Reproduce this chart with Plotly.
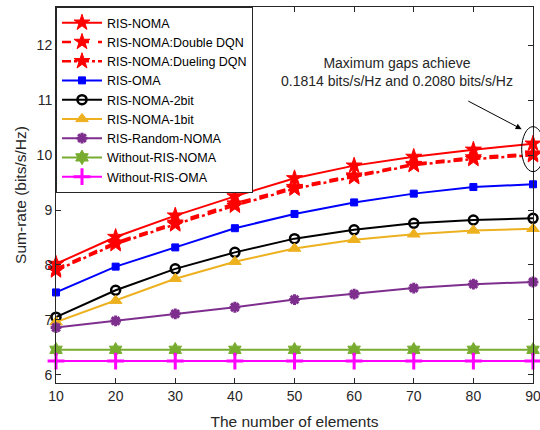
import plotly.graph_objects as go

elements = [10, 20, 30, 40, 50, 60, 70, 80, 90]
ris_noma = [8.02, 8.51, 8.90, 9.25, 9.58, 9.81, 9.97, 10.10, 10.21]
double_dqn = [7.93, 8.41, 8.77, 9.12, 9.42, 9.63, 9.84, 9.96, 10.03]
dueling_dqn = [7.90, 8.38, 8.74, 9.08, 9.39, 9.60, 9.82, 9.93, 10.00]
ris_oma = [7.50, 7.97, 8.32, 8.67, 8.93, 9.14, 9.30, 9.42, 9.47]
noma_2bit = [7.05, 7.54, 7.93, 8.23, 8.48, 8.64, 8.76, 8.82, 8.85]
noma_1bit = [6.96, 7.35, 7.75, 8.06, 8.30, 8.46, 8.56, 8.63, 8.66]
random_noma = [6.86, 6.98, 7.11, 7.23, 7.37, 7.47, 7.58, 7.65, 7.69]
wo_ris_noma = [6.455] * 9
wo_ris_oma = [6.25] * 9

x_range = [10, 90]
y_range = [5.85, 12.7]
font = "Liberation Sans, Arial, sans-serif"

series = [
    ("RIS-NOMA", ris_noma, "#FF0000", "solid", "star", 12, 1),
    ("RIS-NOMA:Double DQN", double_dqn, "#FF0000", "dash", "star", 12, 1),
    ("RIS-NOMA:Dueling DQN", dueling_dqn, "#FF0000", "dashdot", "star", 12, 1),
    ("RIS-OMA", ris_oma, "#0000FF", "solid", "square", 7, 1),
    ("RIS-NOMA-2bit", noma_2bit, "#000000", "solid", "circle-open", 9, 2.5),
    ("RIS-NOMA-1bit", noma_1bit, "#EDB120", "solid", "triangle-up", 11, 1),
    ("RIS-Random-NOMA", random_noma, "#7E2F8E", "solid", "asterisk-open", 9, 3),
    ("Without-RIS-NOMA", wo_ris_noma, "#77AC30", "solid", "hexagram", 11, 1),
    ("Without-RIS-OMA", wo_ris_oma, "#FF00FF", "solid", "cross-thin-open", 12, 3),
]

fig = go.Figure()
for name, ys, color, dash, sym, size, mlw in series:
    fig.add_trace(go.Scatter(
        x=elements, y=ys, name=name, mode="lines+markers",
        line=dict(color=color, width=2.5 if dash != "solid" else 2, dash=dash),
        marker=dict(symbol=sym, size=size, color=color, line=dict(color=color, width=mlw)),
        cliponaxis=False,
    ))

def px_(v):
    return (v - x_range[0]) / (x_range[1] - x_range[0])

def py_(v):
    return (v - y_range[0]) / (y_range[1] - y_range[0])

# ellipse around the gap at 90 elements
fig.add_shape(type="circle", xref="paper", yref="paper",
              x0=px_(88.1), x1=px_(91.9), y0=py_(9.70), y1=py_(10.52),
              line=dict(color="black", width=1))

fig.add_annotation(x=67.2, y=11.52, xref="x", yref="y",
                   text="Maximum gaps achieve<br>0.1814 bits/s/Hz and 0.2080 bits/s/Hz",
                   showarrow=False, font=dict(family=font, size=14, color="#262626"))
fig.add_annotation(x=88.1, y=10.475, xref="x", yref="y", ax=78.9, ay=11.0,
                   axref="x", ayref="y", text="", showarrow=True,
                   arrowhead=2, arrowsize=1.2, arrowwidth=1, arrowcolor="black")

axis_common = dict(showline=True, linecolor="#262626", linewidth=1, mirror="ticks",
                   ticks="inside", ticklen=5, tickcolor="#262626", showgrid=False,
                   zeroline=False, ticklabeloverflow="allow",
                   tickfont=dict(family=font, size=14, color="#262626"))

fig.update_layout(
    width=540, height=430,
    margin=dict(l=56, r=7, t=7, b=47),
    paper_bgcolor="white", plot_bgcolor="white",
    font=dict(family=font, size=14, color="#262626"),
    xaxis=dict(range=x_range, tickvals=elements, automargin=False,
               title=dict(text="The number of elements",
                          font=dict(family=font, size=15.5, color="#262626")), **axis_common),
    yaxis=dict(range=y_range, tickvals=[6, 7, 8, 9, 10, 11, 12], automargin=True,
               title=dict(text="Sum-rate (bits/s/Hz)", standoff=6,
                          font=dict(family=font, size=15.5, color="#262626")), **axis_common),
    legend=dict(x=0, y=1, xanchor="left", yanchor="top", bgcolor="white",
                bordercolor="#262626", borderwidth=1,
                font=dict(family=font, size=12.5, color="#000000"),
                tracegroupgap=0, itemwidth=40),
    showlegend=True,
)

fig.write_html("out.html", config={"displayModeBar": False},
               post_script="document.body.style.margin='0';")
